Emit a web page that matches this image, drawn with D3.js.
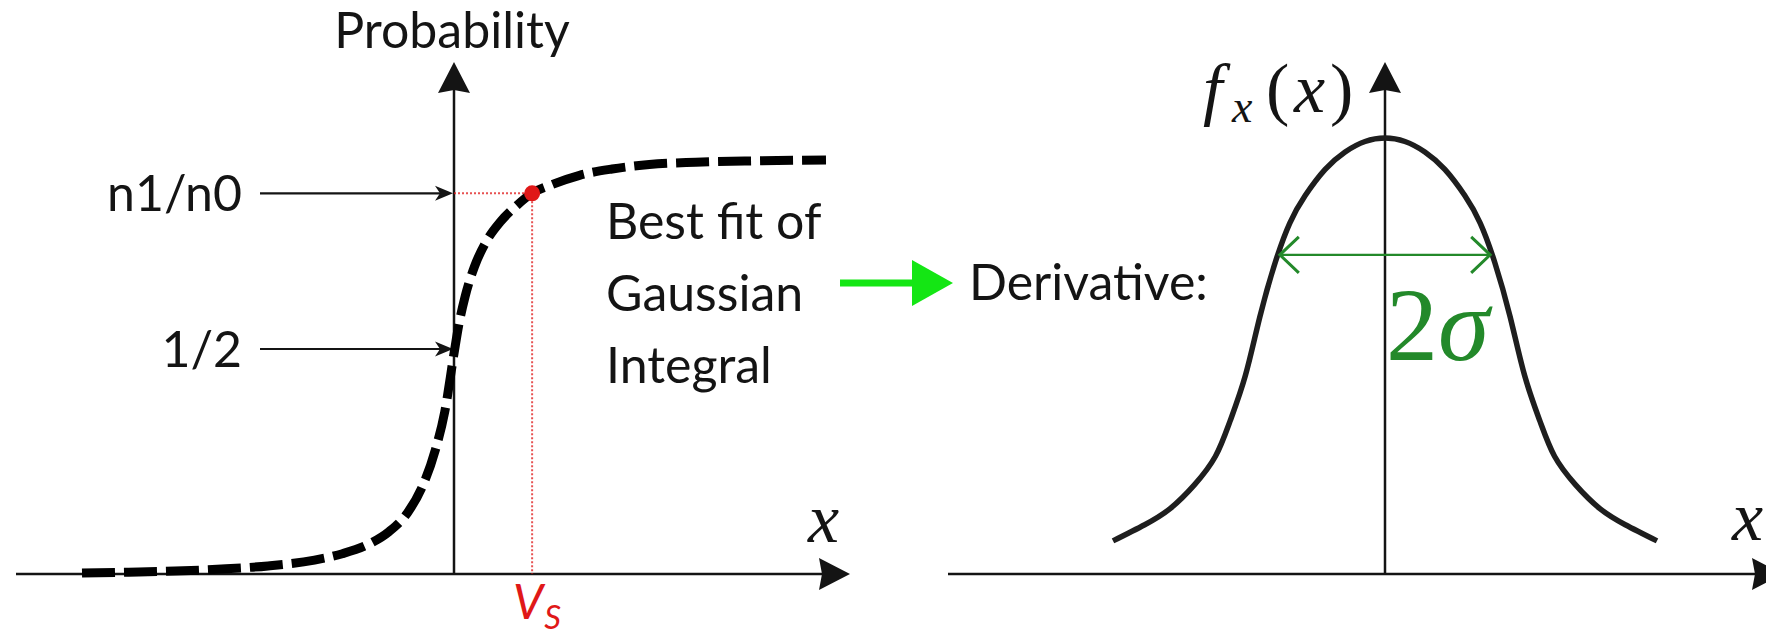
<!DOCTYPE html>
<html>
<head>
<meta charset="utf-8">
<script src="https://cdn.jsdelivr.net/npm/d3@7"></script>
<style>
  html, body { margin: 0; padding: 0; background: #fff; }
  svg { display: block; }
  .sans { font-family: Lato, "Open Sans", sans-serif; fill: #141414; }
  .math { font-family: "Liberation Serif", "DejaVu Serif", serif; fill: #141414; }
</style>
</head>
<body>
<svg id="chart" width="1766" height="636"></svg>
<script>
// ---- Left panel: measured cumulative probability (best-fit Gaussian integral) ----
const cdfX = [-4.0, -3.5, -3.0, -2.5, -2.0, -1.5, -1.2, -0.9, -0.7, -0.5, -0.35, -0.2, -0.1, 0.0,
              0.05, 0.12, 0.22, 0.35, 0.5, 0.67, 0.84, 1.05, 1.35, 1.7, 2.1, 2.6, 3.2, 4.0];
const cdfY = [0.002, 0.004, 0.0065, 0.011, 0.018, 0.031, 0.045, 0.068, 0.094, 0.136, 0.19, 0.276, 0.36, 0.49,
              0.552, 0.617, 0.683, 0.740, 0.783, 0.818, 0.846, 0.865, 0.886, 0.900, 0.910, 0.915, 0.918, 0.920];

// Reference levels marked on the probability axis
const levelValues = [0.846, 0.5];
const levelLabels = ["n1/n0", "1/2"];

// Switching point V_S (where the curve reaches n1/n0)
const vsX = 0.84;
const vsY = 0.846;

// Text block describing the fit
const fitLines = ["Best fit of", "Gaussian", "Integral"];

// ---- Right panel: derivative, a Gaussian density ----
const pdfX = [-3.0, -2.65, -2.37, -2.10, -1.87, -1.71, -1.54, -1.38, -1.21, -1.05, -0.88, -0.66, -0.44, -0.22, 0,
              0.22, 0.44, 0.66, 0.88, 1.05, 1.21, 1.38, 1.54, 1.71, 1.87, 2.10, 2.37, 2.65, 3.0];
const pdfY = [0.076, 0.113, 0.150, 0.205, 0.270, 0.350, 0.455, 0.590, 0.715, 0.805, 0.868, 0.928, 0.968, 0.992, 1.0,
              0.992, 0.968, 0.928, 0.868, 0.805, 0.715, 0.590, 0.455, 0.350, 0.270, 0.205, 0.150, 0.113, 0.076];

// Width marker: arrow spans -sigma .. +sigma at this height
const sigma = 1.16;
const sigmaLevel = 0.732;

const svg = d3.select("#chart");

// Scales
const xL = d3.scaleLinear().domain([-4, 4]).range([82, 826]);
const yL = d3.scaleLinear().domain([0, 1]).range([574, 124]);
const xR = d3.scaleLinear().domain([-3, 3]).range([1113, 1657]);
const yR = d3.scaleLinear().domain([0, 1]).range([574, 138]);

const ink = "#141414";

// Filled arrowhead pointing along +x in local coords, tip at origin
function headPath(len, half, notch) {
  return `M0,0 L${-len},${-half} L${-len + notch},0 L${-len},${half} Z`;
}

function arrowLine(g, x1, y1, x2, y2, opts) {
  const o = Object.assign({ stroke: ink, width: 2.5, len: 31, half: 16, notch: 3 }, opts || {});
  const ang = Math.atan2(y2 - y1, x2 - x1);
  const back = o.len - o.notch;
  g.append("line")
    .attr("x1", x1).attr("y1", y1)
    .attr("x2", x2 - Math.cos(ang) * back).attr("y2", y2 - Math.sin(ang) * back)
    .attr("stroke", o.stroke).attr("stroke-width", o.width);
  g.append("path")
    .attr("d", headPath(o.len, o.half, o.notch))
    .attr("fill", o.stroke)
    .attr("transform", `translate(${x2},${y2}) rotate(${ang * 180 / Math.PI})`);
}

// ================= Left panel =================
const left = svg.append("g");

// Axes
arrowLine(left, 16, yL(0), 850, yL(0));
arrowLine(left, xL(0), yL(0), xL(0), 62);

left.append("text").attr("class", "sans")
  .attr("x", xL(0) - 2).attr("y", 48)
  .attr("text-anchor", "middle").attr("font-size", 50)
  .text("Probability");

// Red guides to the switching point
const red = "#e01818";
left.append("line")
  .attr("x1", xL(0)).attr("y1", yL(vsY)).attr("x2", xL(vsX)).attr("y2", yL(vsY))
  .attr("stroke", red).attr("stroke-width", 2).attr("stroke-dasharray", "2,2").attr("opacity", 0.75);
left.append("line")
  .attr("x1", xL(vsX)).attr("y1", yL(vsY)).attr("x2", xL(vsX)).attr("y2", yL(0))
  .attr("stroke", red).attr("stroke-width", 2).attr("stroke-dasharray", "2,2").attr("opacity", 0.75);

// Level labels with pointer arrows onto the axis
levelValues.forEach((v, i) => {
  const y = yL(v);
  left.append("text").attr("class", "sans")
    .attr("x", 242).attr("y", y + 18)
    .attr("text-anchor", "end").attr("font-size", 50)
    .text(levelLabels[i]);
  arrowLine(left, 260, y, xL(0) - 1, y, { width: 2.2, len: 18, half: 7.5, notch: 5 });
});

// Dashed fitted curve
const cdfLine = d3.line()
  .x(d => xL(d[0])).y(d => yL(d[1]))
  .curve(d3.curveMonotoneX);
left.append("path")
  .datum(d3.zip(cdfX, cdfY))
  .attr("d", cdfLine)
  .attr("fill", "none").attr("stroke", "#000")
  .attr("stroke-width", 9).attr("stroke-dasharray", "33,9");

// Switching point
left.append("circle")
  .attr("cx", xL(vsX)).attr("cy", yL(vsY)).attr("r", 8)
  .attr("fill", red);

// V_S label
const vsLabel = left.append("text").attr("class", "sans")
  .attr("x", xL(vsX) - 19).attr("y", 619)
  .attr("font-size", 48).attr("font-style", "italic")
  .style("fill", red);
vsLabel.append("tspan").text("V");
vsLabel.append("tspan").attr("font-size", 33).attr("dy", 10).attr("dx", 1).text("S");

// x axis label
left.append("text").attr("class", "math")
  .attr("x", 808).attr("y", 542)
  .attr("font-size", 70).attr("font-style", "italic")
  .text("x");

// Fit description
fitLines.forEach((t, i) => {
  left.append("text").attr("class", "sans")
    .attr("x", 606).attr("y", 239 + i * 72)
    .attr("font-size", 50)
    .text(t);
});

// ================= Transition arrow =================
const green = "#14e614";
svg.append("line")
  .attr("x1", 840).attr("y1", 283).attr("x2", 914).attr("y2", 283)
  .attr("stroke", green).attr("stroke-width", 7);
svg.append("path")
  .attr("d", "M912,260 L953,283 L912,306 Z")
  .attr("fill", green);

svg.append("text").attr("class", "sans")
  .attr("x", 969).attr("y", 300)
  .attr("font-size", 50)
  .text("Derivative:");

// ================= Right panel =================
const right = svg.append("g");

arrowLine(right, 948, yR(0), 1783, yR(0));
arrowLine(right, xR(0), yR(0), xR(0), 62);

// f_x(x) label
const fLabel = right.append("text").attr("class", "math")
  .attr("y", 112).attr("font-size", 70);
fLabel.append("tspan").attr("x", 1203).attr("font-style", "italic").text("f");
fLabel.append("tspan").attr("x", 1232).attr("dy", 10).attr("font-size", 46).attr("font-style", "italic").text("x");
fLabel.append("tspan").attr("x", 1266).attr("dy", -10).text("(");
fLabel.append("tspan").attr("x", 1294).attr("font-style", "italic").text("x");
fLabel.append("tspan").attr("x", 1330).text(")");

// right x axis label
right.append("text").attr("class", "math")
  .attr("x", 1732).attr("y", 540)
  .attr("font-size", 70).attr("font-style", "italic")
  .text("x");

// Density curve
const pdfLine = d3.line()
  .x(d => xR(d[0])).y(d => yR(d[1]))
  .curve(d3.curveNatural);
right.append("path")
  .datum(d3.zip(pdfX, pdfY))
  .attr("d", pdfLine)
  .attr("fill", "none").attr("stroke", "#1e1e1e")
  .attr("stroke-width", 5.5);

// 2 sigma width marker
const dgreen = "#23892a";
const ys = yR(sigmaLevel);
const xa = xR(-sigma), xb = xR(sigma);
right.append("line")
  .attr("x1", xa).attr("y1", ys).attr("x2", xb).attr("y2", ys)
  .attr("stroke", dgreen).attr("stroke-width", 2.2);
right.append("path")
  .attr("d", `M${xa + 19},${ys - 18} L${xa},${ys} L${xa + 19},${ys + 18}`)
  .attr("fill", "none").attr("stroke", dgreen).attr("stroke-width", 3);
right.append("path")
  .attr("d", `M${xb - 19},${ys - 18} L${xb},${ys} L${xb - 19},${ys + 18}`)
  .attr("fill", "none").attr("stroke", dgreen).attr("stroke-width", 3);

const sLabel = right.append("text").attr("class", "math")
  .attr("x", 1386).attr("y", 360).attr("font-size", 104)
  .style("fill", dgreen);
sLabel.append("tspan").text("2");
sLabel.append("tspan").attr("font-style", "italic").text("σ");
</script>
</body>
</html>
